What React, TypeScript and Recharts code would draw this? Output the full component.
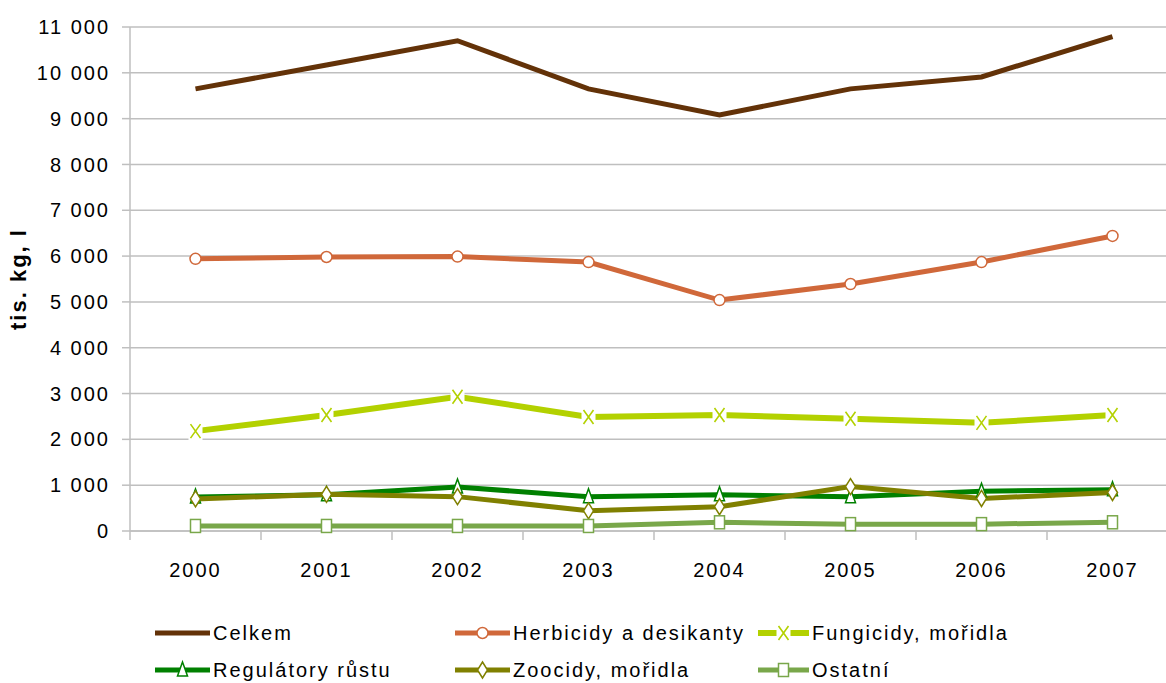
import React from "react";
import { LineChart, Line, XAxis, YAxis, CartesianGrid, Legend } from "recharts";

const years = ["2000", "2001", "2002", "2003", "2004", "2005", "2006", "2007"];
const celkem = [9650, 10170, 10700, 9650, 9080, 9650, 9910, 10790];
const herbicidy = [5940, 5980, 5990, 5870, 5040, 5390, 5870, 6440];
const fungicidy = [2180, 2530, 2930, 2490, 2530, 2450, 2360, 2530];
const regulatory = [740, 790, 960, 750, 790, 750, 870, 900];
const zoocidy = [700, 800, 750, 440, 530, 970, 710, 840];
const ostatni = [110, 110, 110, 110, 190, 150, 150, 190];
const yTicks = [0, 1000, 2000, 3000, 4000, 5000, 6000, 7000, 8000, 9000, 10000, 11000];

const data = years.map((y, i) => ({
  i,
  year: y,
  celkem: celkem[i],
  herbicidy: herbicidy[i],
  fungicidy: fungicidy[i],
  regulatory: regulatory[i],
  zoocidy: zoocidy[i],
  ostatni: ostatni[i],
}));

// category centers + boundaries (for the small tick marks between years)
const xTicks: number[] = [];
for (let k = -0.5; k <= 7.5; k += 0.5) xTicks.push(k);

type Shape = "none" | "circle" | "x" | "triangle" | "diamond" | "square";

const series: { key: string; name: string; color: string; shape: Shape; width: number }[] = [
  { key: "celkem", name: "Celkem", color: "#633208", shape: "none", width: 5 },
  { key: "herbicidy", name: "Herbicidy a desikanty", color: "#d0683a", shape: "circle", width: 5 },
  { key: "fungicidy", name: "Fungicidy, mořidla", color: "#b3d100", shape: "x", width: 6 },
  { key: "regulatory", name: "Regulátory růstu", color: "#008000", shape: "triangle", width: 5 },
  { key: "zoocidy", name: "Zoocidy, mořidla", color: "#808000", shape: "diamond", width: 5 },
  { key: "ostatni", name: "Ostatní", color: "#79a74a", shape: "square", width: 5 },
];

function Marker({ cx, cy, shape, color }: { cx: number; cy: number; shape: Shape; color: string }) {
  if (shape === "circle")
    return <circle cx={cx} cy={cy} r={5.5} fill="#fff" stroke={color} strokeWidth={1.5} />;
  if (shape === "x") {
    const d = `M${cx - 5},${cy - 7}L${cx + 5},${cy + 7}M${cx + 5},${cy - 7}L${cx - 5},${cy + 7}`;
    return (
      <g>
        <rect x={cx - 7} y={cy - 9} width={14} height={18} fill="#fff" />
        <path d={d} stroke={color} strokeWidth={1.6} fill="none" />
      </g>
    );
  }
  if (shape === "triangle")
    return (
      <path
        d={`M${cx},${cy - 8}L${cx + 5},${cy + 6}L${cx - 5},${cy + 6}Z`}
        fill="#fff"
        stroke={color}
        strokeWidth={1.5}
      />
    );
  if (shape === "diamond")
    return (
      <path
        d={`M${cx},${cy - 8}L${cx + 5},${cy}L${cx},${cy + 8}L${cx - 5},${cy}Z`}
        fill="#fff"
        stroke={color}
        strokeWidth={1.5}
      />
    );
  if (shape === "square")
    return <rect x={cx - 5} y={cy - 6.5} width={10} height={13} fill="#fff" stroke={color} strokeWidth={1.5} />;
  return null;
}

const makeDot = (shape: Shape, color: string) => (p: any) =>
  <g key={`${shape}-${p.index}`}><Marker cx={p.cx} cy={p.cy} shape={shape} color={color} /></g>;

const fmt = (v: number) => v.toLocaleString("en-US").replace(/,/g, " ");

function XTick(props: any) {
  const { x, y, payload } = props;
  const v = payload.value as number;
  if (Math.abs(v - Math.round(v)) > 0.01) {
    return <line x1={x} x2={x} y1={y} y2={y + 9} stroke="#bfbfbf" strokeWidth={1.5} />;
  }
  return (
    <text x={x} y={y + 39} textAnchor="middle" dy="0.35em" fontSize={20} letterSpacing={2} fill="#000">
      {years[v]}
    </text>
  );
}

const legendCols = [155, 455, 758];

function LegendContent() {
  return (
    <div style={{ position: "relative", width: 1166, height: 92 }}>
      {series.map((s, idx) => {
        const left = legendCols[idx % 3];
        const top = idx < 3 ? 30 : 67;
        const lw = idx % 3 === 2 ? 51 : 55;
        return (
          <div key={s.key} style={{ position: "absolute", left, top, height: 24, display: "flex", alignItems: "center" }}>
            <svg width={lw} height={24} style={{ display: "block" }}>
              <line x1={0} x2={lw} y1={12} y2={12} stroke={s.color} strokeWidth={s.width} />
              <Marker cx={lw / 2} cy={12} shape={s.shape} color={s.color} />
            </svg>
            <span style={{ marginLeft: 3, fontSize: 20, letterSpacing: 2, color: "#000", whiteSpace: "nowrap" }}>
              {s.name}
            </span>
          </div>
        );
      })}
    </div>
  );
}

export default function App() {
  return (
    <div
      style={{
        position: "absolute",
        left: 0,
        top: 0,
        width: 1166,
        height: 683,
        overflow: "hidden",
        background: "#fff",
        fontFamily: "'Liberation Sans', Arial, sans-serif",
      }}
    >
      <LineChart width={1200} height={683} data={data} margin={{ top: 27, right: 22, left: 0, bottom: 0 }}>
        <CartesianGrid vertical={false} stroke="#bfbfbf" strokeWidth={1.5} />
        <XAxis
          dataKey="i"
          type="number"
          domain={[-0.5, 7.5]}
          ticks={xTicks}
          interval={0}
          tickLine={false}
          tickSize={0}
          tickMargin={0}
          tick={<XTick />}
          axisLine={{ stroke: "#bfbfbf", strokeWidth: 1.5 }}
          height={60}
        />
        <YAxis
          type="number"
          domain={[0, 11000]}
          ticks={yTicks}
          interval={0}
          width={130}
          tickSize={8}
          tickMargin={12}
          tickFormatter={fmt}
          tick={{ fontSize: 20, fill: "#000", letterSpacing: 2 }}
          tickLine={{ stroke: "#bfbfbf", strokeWidth: 1.5 }}
          axisLine={{ stroke: "#bfbfbf", strokeWidth: 1.5 }}
          label={{
            content: (p: any) => {
              const vb = p.viewBox;
              const cy = vb.y + vb.height / 2;
              return (
                <text
                  x={18}
                  y={cy}
                  transform={`rotate(-90 18 ${cy})`}
                  textAnchor="middle"
                  dy="0.35em"
                  fontSize={22}
                  letterSpacing={2}
                  fontWeight="bold"
                  fill="#000"
                >
                  tis. kg, l
                </text>
              );
            },
          }}
        />
        <Legend verticalAlign="bottom" height={92} content={<LegendContent />} wrapperStyle={{ left: 0 }} />
        {series.map((s) => (
          <Line
            key={s.key}
            type="linear"
            dataKey={s.key}
            name={s.name}
            stroke={s.color}
            strokeWidth={s.width}
            dot={s.shape === "none" ? false : makeDot(s.shape, s.color)}
            activeDot={false}
            isAnimationActive={false}
          />
        ))}
      </LineChart>
    </div>
  );
}
